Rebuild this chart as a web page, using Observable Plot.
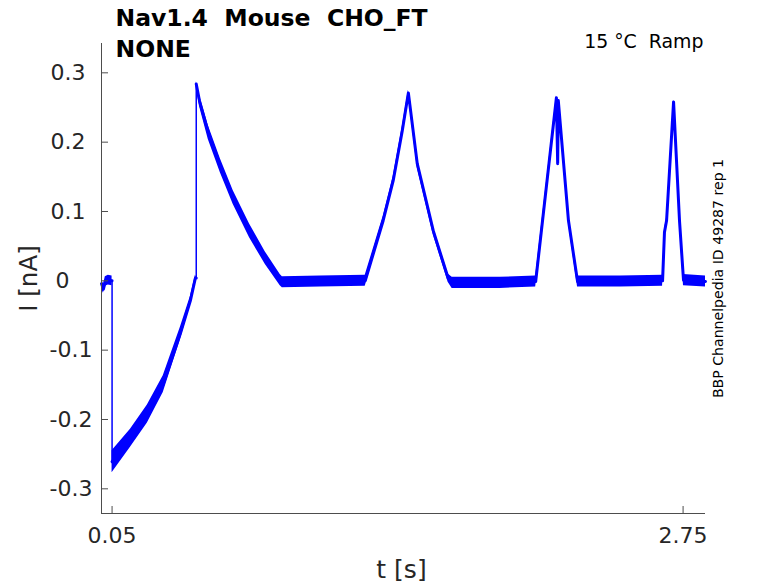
<!DOCTYPE html>
<html>
<head>
<meta charset="utf-8">
<script src="https://cdn.jsdelivr.net/npm/d3@7"></script>
<script src="https://cdn.jsdelivr.net/npm/@observablehq/plot@0.6"></script>
<style>
  html, body { margin: 0; padding: 0; background: #fff; }
  #chart svg { display: block; }
  #chart svg text { white-space: pre; }
</style>
</head>
<body>
<div id="chart"></div>
<script>
// ---- data ----
// trace pieces: 0 = holding baseline, 1 = inward (negative) current, 2 = rest of the ramp protocol
const segment = [0, 0, 0, 0, 0,
  1, 1, 1, 1, 1, 1, 1, 1,
  2, 2, 2, 2, 2, 2, 2, 2, 2, 2, 2,
  2, 2, 2, 2, 2, 2, 2, 2, 2, 2,
  2, 2, 2, 2, 2, 2, 2,
  2, 2, 2, 2, 2, 2];
const time = [0.000, 0.009, 0.018, 0.032, 0.050,
  0.050, 0.137, 0.217, 0.292, 0.373, 0.420, 0.444, 0.448,
  0.448, 0.463, 0.505, 0.562, 0.623, 0.700, 0.774, 0.845, 0.855, 1.034, 1.247,
  1.332, 1.379, 1.422, 1.451, 1.493, 1.569, 1.639, 1.658, 1.885, 2.053,
  2.151, 2.157, 2.160, 2.208, 2.251, 2.454, 2.653,
  2.662, 2.672, 2.705, 2.733, 2.752, 2.856];
const current = [-0.004, -0.012, -0.001, 0.001, 0.000,
  -0.261, -0.227, -0.192, -0.149, -0.076, -0.029, 0.004, 0.004,
  0.284, 0.260, 0.214, 0.166, 0.120, 0.072, 0.033, 0.001, -0.002, -0.001, 0.000,
  0.087, 0.144, 0.216, 0.271, 0.169, 0.072, 0.004, -0.003, -0.003, -0.001,
  0.264, 0.169, 0.260, 0.087, -0.001, -0.001, 0.000,
  0.070, 0.087, 0.258, 0.087, 0.001, -0.001];
// half-width of the noisy band around the trace (nA)
const noise = [0.007, 0.006, 0.007, 0.007, 0.007,
  0.016, 0.013, 0.013, 0.012, 0.009, 0.006, 0.004, 0.002,
  0.003, 0.008, 0.010, 0.010, 0.010, 0.010, 0.009, 0.008, 0.008, 0.008, 0.008,
  0.006, 0.006, 0.006, 0.004, 0.006, 0.006, 0.006, 0.008, 0.008, 0.008,
  0.003, 0.002, 0.003, 0.004, 0.008, 0.008, 0.008,
  0.004, 0.004, 0.003, 0.004, 0.008, 0.008];
// the two abrupt steps of the trace
const stepTime = [0.050, 0.448];
const stepFrom = [0.000, 0.004];
const stepTo = [-0.261, 0.284];

const xDomain = [0, 2.856];
const yDomain = [-0.3356, 0.3423];
const xTicks = [0.05, 2.75];
const xTickLabels = ["0.05", "2.75"];
const yTicksPos = [0.1, 0.2, 0.3];
const yTicksPosLabels = ["0.1", "0.2", "0.3"];
const yTicksNeg = [-0.3, -0.2, -0.1];
const yTicksNegLabels = ["-0.3", "-0.2", "-0.1"];
const yTickZero = [0];
const yTickZeroLabels = ["0"];
const yTicksAll = [-0.3, -0.2, -0.1, 0, 0.1, 0.2, 0.3];

const titleLines = ["Nav1.4  Mouse  CHO_FT", "NONE"];
const conditionText = "15 °C  Ramp";
const sideText = "BBP Channelpedia ID 49287 rep 1";
const xLabel = "t [s]";
const yLabel = "I [nA]";

// ---- build tables ----
const trace = time.map((t, k) => ({seg: segment[k], t, i: current[k], lo: current[k] - noise[k], hi: current[k] + noise[k]}));
const steps = stepTime.map((t, k) => ({t, a: stepFrom[k], b: stepTo[k]}));

const W = 778, H = 583;
const mL = 101, mR = 73, mT = 43, mB = 70;
const frameW = W - mL - mR, frameH = H - mT - mB;
const ink = "#262626";
const axisInk = "#4d4d4d";
const blue = "#0000ff";
const font = "DejaVu Sans";

const lbl = (vals, labs) => d => labs[vals.indexOf(d)];

const chart = Plot.plot({
  width: W, height: H,
  marginLeft: mL, marginRight: mR, marginTop: mT, marginBottom: mB,
  style: {fontFamily: font, background: "#fff", color: ink},
  x: {domain: xDomain},
  y: {domain: yDomain},
  marks: [
    // trace band + centre line
    Plot.areaY(trace, {x: "t", y1: "lo", y2: "hi", z: "seg", fill: blue, curve: "linear"}),
    Plot.line(trace, {x: "t", y: "i", z: "seg", stroke: blue, strokeWidth: 3, strokeLinejoin: "round", curve: "linear"}),
    Plot.ruleX(steps, {x: "t", y1: "a", y2: "b", stroke: blue, strokeWidth: 1.5}),
    // axis lines
    Plot.ruleX([xDomain[0]], {stroke: axisInk, strokeWidth: 1}),
    Plot.ruleY([yDomain[0]], {stroke: axisInk, strokeWidth: 1}),
    // inward ticks
    Plot.tickY(yTicksAll, {y: d => d, insetRight: frameW - 7, stroke: axisInk, strokeWidth: 1}),
    Plot.tickX(xTicks, {x: d => d, insetTop: frameH - 7, stroke: axisInk, strokeWidth: 1}),
    // tick labels
    Plot.axisY(yTicksPos, {tickSize: 0, tickPadding: 16, fontSize: 22, fill: ink, tickFormat: lbl(yTicksPos, yTicksPosLabels), label: null}),
    Plot.axisY(yTicksNeg, {tickSize: 0, tickPadding: 9, fontSize: 22, fill: ink, tickFormat: lbl(yTicksNeg, yTicksNegLabels), label: null}),
    Plot.axisY(yTickZero, {tickSize: 0, tickPadding: 32, fontSize: 22, fill: ink, tickFormat: lbl(yTickZero, yTickZeroLabels), label: null}),
    Plot.axisX(xTicks, {tickSize: 0, tickPadding: 14, fontSize: 22, fill: ink, tickFormat: lbl(xTicks, xTickLabels), label: null}),
    // axis titles
    Plot.text([xLabel], {frameAnchor: "bottom", dy: 64, lineAnchor: "bottom", textAnchor: "middle", fontSize: 25, fill: ink, dx: -2}),
    Plot.text([yLabel], {frameAnchor: "left", dx: -65, rotate: -90, lineAnchor: "bottom", textAnchor: "middle", fontSize: 24.5, fill: ink}),
    // title
    Plot.text([titleLines.join("\n")], {frameAnchor: "top-left", dx: 14, dy: 13, lineAnchor: "bottom", textAnchor: "start", fontSize: 23.5, fontWeight: "bold", lineHeight: 1.28, fill: "#000"}),
    Plot.text([conditionText], {frameAnchor: "top-right", dx: -2, dy: 4, lineAnchor: "bottom", textAnchor: "end", fontSize: 18.9, fill: "#000"}),
    Plot.text([sideText], {frameAnchor: "right", dx: 17, dy: 0, rotate: -90, lineAnchor: "bottom", textAnchor: "middle", fontSize: 14.1, fill: "#000"})
  ]
});

document.getElementById("chart").appendChild(chart);
</script>
</body>
</html>
